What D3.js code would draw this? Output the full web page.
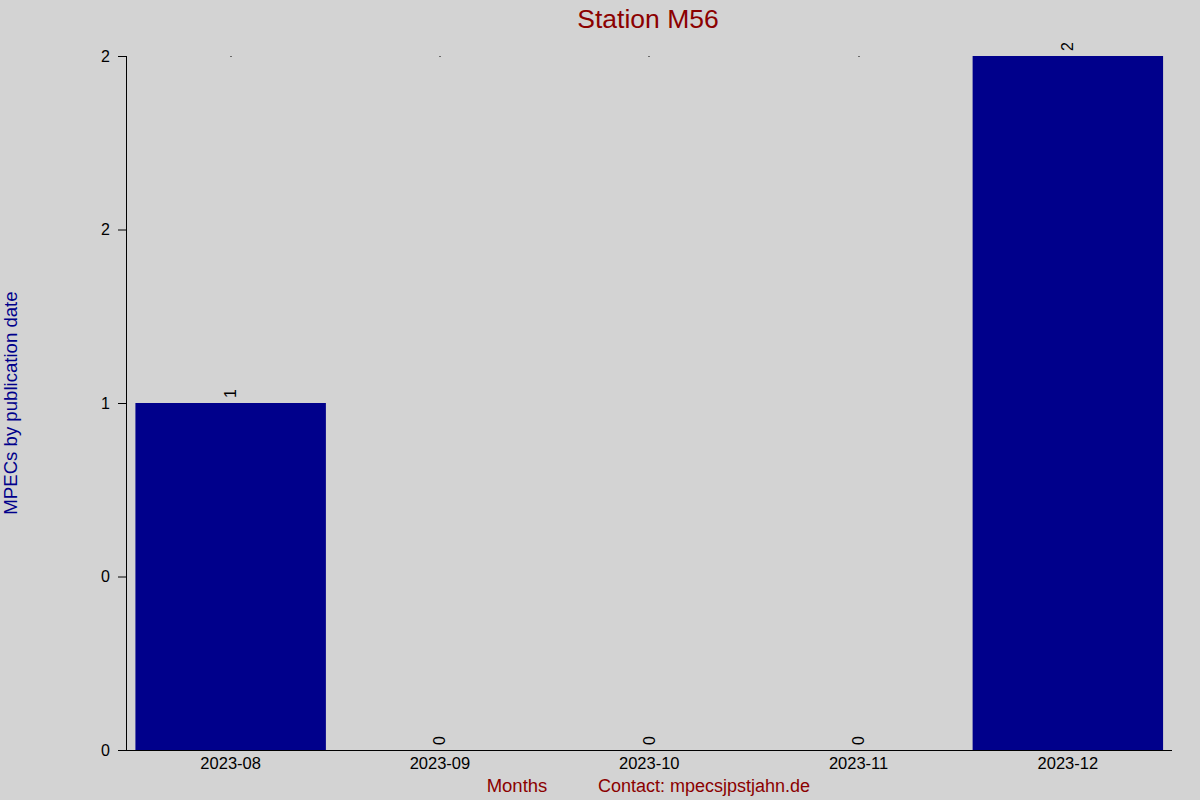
<!DOCTYPE html>
<html>
<head>
<meta charset="utf-8">
<script src="https://cdn.jsdelivr.net/npm/d3@7"></script>
<style>
    body { margin: 0; background: #d3d3d3; }
    svg { display: block; font-family: "Liberation Sans", Arial, sans-serif; }
</style>
</head>
<body>
<div id="chart"></div>
<script>

var months = ["2023-08", "2023-09", "2023-10", "2023-11", "2023-12"];
var counts = [1, 0, 0, 0, 2];
var yTicks = [0, 0.5, 1, 1.5, 2];
var yTickLabels = ["0", "0", "1", "2", "2"];

var width = 1200,
    height = 800;

var margin = {
    top: 56,
    bottom: 50,
    left: 126,
    right: 28
};

var svg = d3.select("#chart")
    .append("svg")
    .attr("width", width)
    .attr("height", height);

svg.append("rect")
    .attr("width", width)
    .attr("height", height)
    .attr("fill", "#d3d3d3");

var x = d3.scaleBand()
    .domain(months)
    .range([margin.left, width - margin.right + 0.5])
    .paddingInner(0.09)
    .paddingOuter(0.045);

var y = d3.scaleLinear()
    .domain([0, 2])
    .range([height - margin.bottom, margin.top]);

// little marks at the top of each column
svg.append("g")
    .selectAll("rect")
    .data(months)
    .enter().append("rect")
    .attr("x", function (d) { return Math.round(x(d) + x.bandwidth() / 2) - 0.5; })
    .attr("y", y(2))
    .attr("width", 1)
    .attr("height", 1)
    .attr("fill", "#000");

// bars
svg.append("g")
    .selectAll("rect")
    .data(counts)
    .enter().append("rect")
    .attr("x", function (d, i) { return x(months[i]); })
    .attr("y", function (d) { return y(d); })
    .attr("width", x.bandwidth())
    .attr("height", function (d) { return y(0) - y(d); })
    .attr("fill", "#00008b");

// value labels
svg.append("g")
    .selectAll("text")
    .data(counts)
    .enter().append("text")
    .attr("transform", function (d, i) {
        var cx = x(months[i]) + x.bandwidth() / 2;
        return "translate(" + (cx + 5.5) + "," + (y(d) - 5) + ") rotate(-90)";
    })
    .attr("font-size", "16px")
    .attr("fill", "#000")
    .text(function (d) { return d; });

// y axis
var yAxis = d3.axisLeft(y)
    .tickValues(yTicks)
    .tickFormat(function (d, i) { return yTickLabels[i]; })
    .tickSize(8)
    .tickPadding(8);

var gy = svg.append("g")
    .attr("transform", "translate(" + margin.left + ",0)")
    .call(yAxis);
gy.select(".domain").attr("d", "M0.5," + y(2) + "V" + (y(0) + 0.5));
gy.selectAll("text").attr("font-size", "16px").attr("font-family", "Liberation Sans, Arial, sans-serif").attr("fill", "#000");

// x axis
var xAxis = d3.axisBottom(x)
    .tickSize(0)
    .tickPadding(7);

var gx = svg.append("g")
    .attr("transform", "translate(0," + (y(0)) + ")")
    .call(xAxis);
gx.select(".domain").attr("d", "M" + (margin.left - 8) + ",0.5H" + (width - margin.right));
gx.selectAll("text").attr("font-size", "16.5px").attr("font-family", "Liberation Sans, Arial, sans-serif").attr("fill", "#000");

// title
svg.append("text")
    .attr("x", 648)
    .attr("y", 28)
    .attr("text-anchor", "middle")
    .attr("font-size", "26.5px")
    .attr("fill", "#8b0000")
    .text("Station M56");

// y label
svg.append("text")
    .attr("transform", "translate(17,403) rotate(-90)")
    .attr("text-anchor", "middle")
    .attr("font-size", "18.6px")
    .attr("fill", "#00008b")
    .text("MPECs by publication date");

// x label
svg.append("text")
    .attr("x", 517)
    .attr("y", 792)
    .attr("text-anchor", "middle")
    .attr("font-size", "18.5px")
    .attr("fill", "#8b0000")
    .text("Months");

svg.append("text")
    .attr("x", 598)
    .attr("y", 792)
    .attr("font-size", "18px")
    .attr("fill", "#8b0000")
    .text("Contact: mpecsjpstjahn.de");

</script>
</body>
</html>
